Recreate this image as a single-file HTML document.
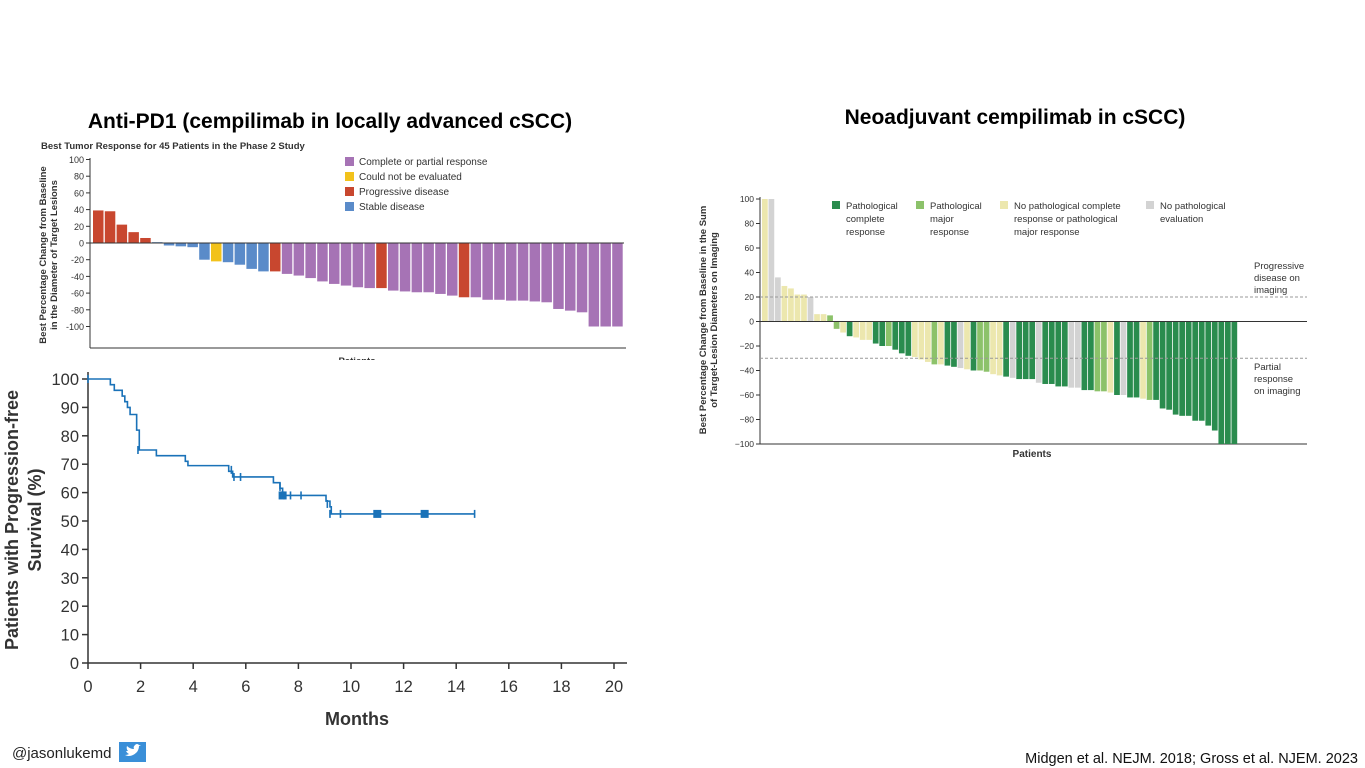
<!DOCTYPE html>
<html><head><meta charset="utf-8"><style>
body{margin:0;background:#fff;width:1365px;height:768px;overflow:hidden;font-family:"Liberation Sans",sans-serif}
svg{position:absolute;left:0;top:0}
text{font-family:"Liberation Sans",sans-serif}
</style></head><body>
<svg id="s" width="1365" height="768">
<text x="330" y="128" text-anchor="middle" font-size="21" font-weight="bold">Anti-PD1 (cempilimab in locally advanced cSCC)</text>
<text x="1015" y="124" text-anchor="middle" font-size="21" font-weight="bold">Neoadjuvant cempilimab in cSCC)</text>
<text x="41" y="149" font-size="9.5" font-weight="bold" fill="#333">Best Tumor Response for 45 Patients in the Phase 2 Study</text>
<g id="w1"></g>
<g id="km"></g>
<g id="w2"></g>
<text x="12" y="758" font-size="15" fill="#222">@jasonlukemd</text>
<g><rect x="119" y="742" width="27" height="20" fill="#3a8fd8"/><path d="M125 755 q6 3 12 -3 q2-3 2-6 l2-1-2 0 q-2-2-4 0 q-2 2-1 4 q-4 0-7-3 q-1 3 1 5 l-2 0 q1 2 3 3 q-2 1-4 1z" fill="#fff"/></g>
<text x="1358" y="763" text-anchor="end" font-size="14.5" fill="#111">Midgen et al. NEJM. 2018; Gross et al. NJEM. 2023</text>
</svg>
<script>
const NS="http://www.w3.org/2000/svg";
function mk(p,t,a,txt){const e=document.createElementNS(NS,t);for(const k in a)e.setAttribute(k,a[k]);if(txt!=null)e.textContent=txt;p.appendChild(e);return e;}
// ---- left waterfall data ----
const w1Values=[39,38,22,13,6,1,-3,-4,-5,-20,-22,-23,-26,-31,-34,-34,-37,-39,-42,-46,-49,-51,-53,-54,-54,-57,-58,-59,-59,-61,-63,-65,-65,-68,-68,-69,-69,-70,-71,-79,-81,-83,-100,-100,-100];
const w1Cats="RRRRRBBBBBYBBBBRPPPPPPPPRPPPPPPRPPPPPPPPPPPPP".split("");
const w1Ticks=[100,80,60,40,20,0,-20,-40,-60,-80,-100];
const w1Colors={P:"#a673b5",Y:"#f2c21b",R:"#c8472f",B:"#5a8bc9"};
const w1Legend=[["P","Complete or partial response"],["Y","Could not be evaluated"],["R","Progressive disease"],["B","Stable disease"]];
(function(){
 const g=document.getElementById('w1');
 const y=v=>243-v*0.835, x0=93, bw=(624-93)/w1Values.length;
 mk(g,'line',{x1:90,y1:158,x2:90,y2:348,stroke:'#333'});
 mk(g,'line',{x1:90,y1:348,x2:626,y2:348,stroke:'#333'});
 w1Ticks.forEach(t=>{mk(g,'line',{x1:86,x2:90,y1:y(t),y2:y(t),stroke:'#333'});
  const e=mk(g,'text',{x:84,y:y(t)+3.5,'text-anchor':'end','font-size':9,fill:'#333'},t);
  });
 w1Values.forEach((v,i)=>{const r=mk(g,'rect',{x:x0+i*bw,y:Math.min(y(v),y(0)),width:bw-1.3,height:Math.abs(y(v)-y(0)),fill:w1Colors[w1Cats[i]]});
  });
 mk(g,'line',{x1:90,y1:y(0),x2:624,y2:y(0),stroke:'#333'});
 w1Legend.forEach((l,i)=>{mk(g,'rect',{x:345,y:157+i*15,width:9,height:9,fill:w1Colors[l[0]]});
  const e=mk(g,'text',{x:359,y:165+i*15,'font-size':10,fill:'#333'},l[1]);
  });
 const t=mk(g,'text',{transform:'translate(46,255) rotate(-90)','text-anchor':'middle','font-size':9.5,'font-weight':'bold',fill:'#333'});
 mk(t,'tspan',{x:0,dy:0},'Best Percentage Change from Baseline');mk(t,'tspan',{x:0,dy:11},'in the Diameter of Target Lesions');
 
 mk(g,'text',{x:357,y:364,'text-anchor':'middle','font-size':9.5,'font-weight':'bold',fill:'#333'},'Patients');
 mk(g,'rect',{x:0,y:360,width:640,height:8,fill:'#fff'});
})();
// ---- KM data ----
const kmTimes=[0,0.85,1.0,1.3,1.4,1.5,1.6,1.85,1.95,2.6,3.7,3.8,5.35,5.5,7.05,7.3,7.4,9.05,9.2,9.25];
const kmSurv=[100,98,96,94,92,90,87.5,82,75,73,71,69.5,67.5,65.5,63.5,61.5,59,57,55,52.5];
const kmEnd=14.7;
const kmCensor=[[0,100],[1.9,75],[5.45,68],[5.55,65.5],[5.8,65.5],[7.3,62],[7.45,59],[7.7,59],[8.1,59],[9.1,56],[9.2,52.5],[9.6,52.5],[14.7,52.5]];
const kmSquares=[[7.4,59],[11,52.5],[12.8,52.5]];
const kmXTicks=[0,2,4,6,8,10,12,14,16,18,20];
const kmYTicks=[0,10,20,30,40,50,60,70,80,90,100];
(function(){
 const g=document.getElementById('km');
 const X=t=>88+t*26.3, Y=s=>663-s*2.84;
 mk(g,'line',{x1:88,y1:372,x2:88,y2:663,stroke:'#333','stroke-width':1.5});
 mk(g,'line',{x1:88,y1:663,x2:627,y2:663,stroke:'#333','stroke-width':1.5});
 kmYTicks.forEach(v=>{mk(g,'line',{x1:82,x2:88,y1:Y(v),y2:Y(v),stroke:'#333','stroke-width':1.5});
  const e=mk(g,'text',{x:79,y:Y(v)+6,'text-anchor':'end','font-size':16.5,fill:'#333'},v);
  });
 kmXTicks.forEach(v=>{mk(g,'line',{x1:X(v),x2:X(v),y1:663,y2:669,stroke:'#333','stroke-width':1.5});
  const e=mk(g,'text',{x:X(v),y:692,'text-anchor':'middle','font-size':16.5,fill:'#333'},v);
  });
 let d='M'+X(kmTimes[0])+' '+Y(kmSurv[0]);
 for(let i=1;i<kmTimes.length;i++){d+=' H'+X(kmTimes[i])+' V'+Y(kmSurv[i]);}
 d+=' H'+X(kmEnd);
 const p=mk(g,'path',{d:d,fill:'none',stroke:'#1a72b8','stroke-width':1.6});
 
 kmCensor.forEach(c=>{const l=mk(g,'line',{x1:X(c[0]),x2:X(c[0]),y1:Y(c[1])-4,y2:Y(c[1])+4,stroke:'#1a72b8','stroke-width':1.6});
  });
 kmSquares.forEach(c=>{const r=mk(g,'rect',{x:X(c[0])-4,y:Y(c[1])-4,width:8,height:8,fill:'#1a72b8'});
  });
 const t=mk(g,'text',{transform:'translate(18,520) rotate(-90)','text-anchor':'middle','font-size':18,'font-weight':'bold',fill:'#333'});
 mk(t,'tspan',{x:0,dy:0},'Patients with Progression-free');mk(t,'tspan',{x:0,dy:23},'Survival (%)');
 
 const m=mk(g,'text',{x:357,y:725,'text-anchor':'middle','font-size':18,'font-weight':'bold',fill:'#333'},'Months');
 
})();
// ---- right waterfall data ----
const w2Values=[100,100,36,29,27,22,22,20,6,6,5,-6,-9,-12,-13,-15,-15,-18,-20,-20,-23,-26,-28,-29,-31,-33,-35,-35,-36,-37,-38,-39,-40,-40,-41,-43,-44,-45,-46,-47,-47,-47,-50,-51,-51,-53,-53,-54,-54,-56,-56,-57,-57,-58,-60,-60,-62,-62,-63,-64,-64,-71,-72,-76,-77,-77,-81,-81,-85,-89,-100,-100,-100];
const w2Cats="YXXYYYYXYYLLYGYYYGGLGGGYYYLYGGXYGLLYYGXGGGXGGGGXXGGLLYGXGGYLGGGGGGGGGGGGG".split("");
const w2Ticks=[100,80,60,40,20,0,-20,-40,-60,-80,-100];
const w2Colors={G:"#2a8c4e",L:"#8cc26a",Y:"#ece7ae",X:"#d3d3d3"};
const w2Legend=[["G",["Pathological","complete","response"],832],["L",["Pathological","major","response"],916],["Y",["No pathological complete","response or pathological","major response"],1000],["X",["No pathological","evaluation"],1146]];
(function(){
 const g=document.getElementById('w2');
 const y=v=>321.5-v*1.225, x0=762, bw=(1238-762)/w2Values.length;
 mk(g,'line',{x1:760,y1:197,x2:760,y2:444,stroke:'#333'});
 mk(g,'line',{x1:760,y1:444,x2:1307,y2:444,stroke:'#333'});
 w2Ticks.forEach(t=>{mk(g,'line',{x1:756,x2:760,y1:y(t),y2:y(t),stroke:'#333'});
  const e=mk(g,'text',{x:754,y:y(t)+3,'text-anchor':'end','font-size':8.5,fill:'#333'},t===0?'0':(t<0?'\u2212'+(-t):t));
  });
 w2Values.forEach((v,i)=>{const r=mk(g,'rect',{x:x0+i*bw,y:Math.min(y(v),y(0)),width:bw-0.8,height:Math.abs(y(v)-y(0)),fill:w2Colors[w2Cats[i]]});
  });
 mk(g,'line',{x1:760,y1:y(0),x2:1307,y2:y(0),stroke:'#333'});
 [20,-30].forEach(v=>mk(g,'line',{x1:760,y1:y(v),x2:1307,y2:y(v),stroke:'#999','stroke-dasharray':'3,2'}));
 w2Legend.forEach(l=>{mk(g,'rect',{x:l[2],y:201,width:8,height:8,fill:w2Colors[l[0]]});
  const e=mk(g,'text',{x:l[2]+14,y:209,'font-size':9.5,fill:'#333'});
  l[1].forEach((s,j)=>mk(e,'tspan',{x:l[2]+14,dy:j?13:0},s));
  });
 const a=mk(g,'text',{x:1254,y:269,'font-size':9.5,fill:'#333'});
 ['Progressive','disease on','imaging'].forEach((s,j)=>mk(a,'tspan',{x:1254,dy:j?12:0},s));
 const b=mk(g,'text',{x:1254,y:370,'font-size':9.5,fill:'#333'});
 ['Partial','response','on imaging'].forEach((s,j)=>mk(b,'tspan',{x:1254,dy:j?12:0},s));
 const t=mk(g,'text',{transform:'translate(706,320) rotate(-90)','text-anchor':'middle','font-size':9.5,'font-weight':'bold',fill:'#333'});
 mk(t,'tspan',{x:0,dy:0},'Best Percentage Change from Baseline in the Sum');mk(t,'tspan',{x:0,dy:11},'of Target-Lesion Diameters on Imaging');
 
 const p=mk(g,'text',{x:1032,y:457,'text-anchor':'middle','font-size':10,'font-weight':'bold',fill:'#333'},'Patients');
 
})();
</script>
</body></html>
